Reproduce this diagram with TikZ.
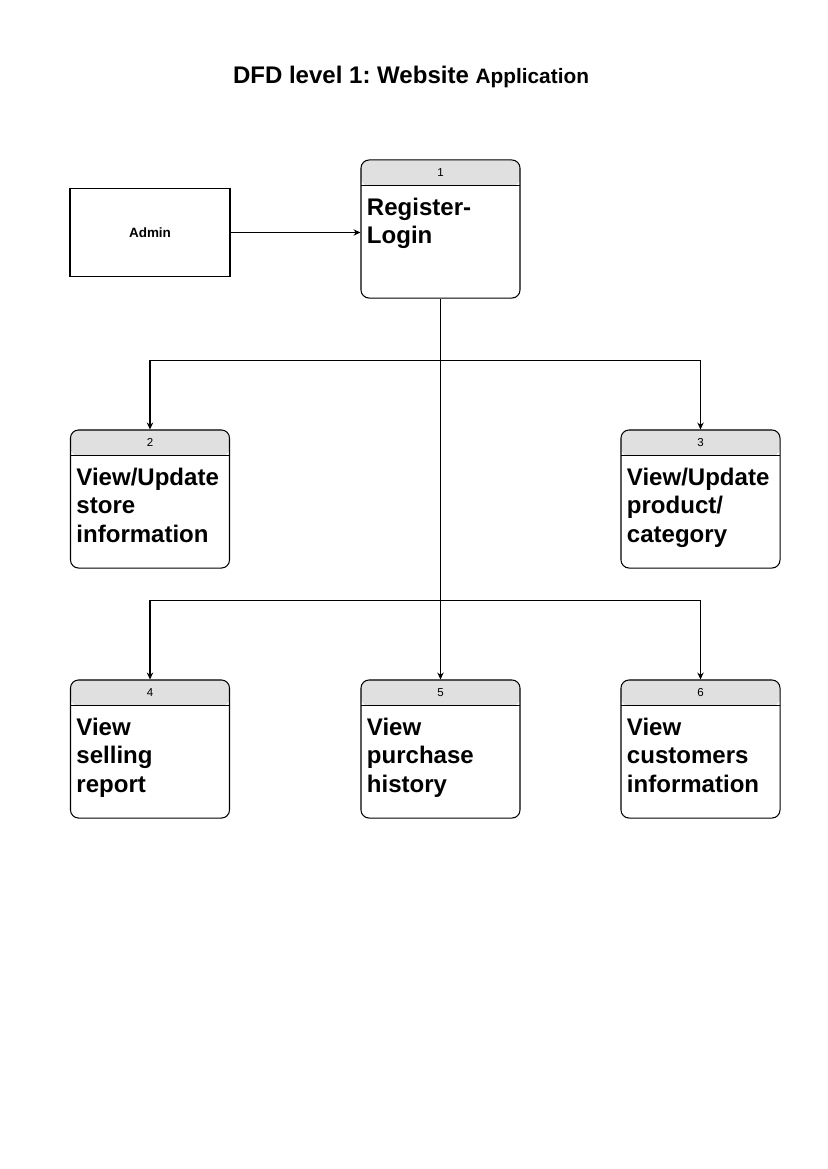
\documentclass[tikz,border=0pt]{standalone}
\usepackage{fontspec}
\setmainfont{Liberation Sans}
\usepackage{xcolor}
\usepackage{tikz}
\usetikzlibrary{arrows.meta}
\frenchspacing
\definecolor{headgray}{HTML}{E0E0E0}
\tikzstyle{entity} = [draw, rectangle, line width=0.75pt,
minimum width=115.2pt, minimum height=64pt, font=\fontsize{9.7}{11}\selectfont\bfseries]
\tikzstyle{process} = [draw, rectangle, rounded corners=5.8pt, line width=0.75pt,
minimum width=114.5pt, minimum height=99.4pt,
path picture={\fill[headgray] (path picture bounding box.north west) rectangle ([yshift=-18.7pt]path picture bounding box.north east);
\draw[line width=0.75pt] ([yshift=-18.7pt]path picture bounding box.north west) -- ([yshift=-18.7pt]path picture bounding box.north east);}]
\tikzstyle{num} = [inner sep=0pt, font=\fontsize{8.3}{10}\selectfont]
\tikzstyle{ptext} = [anchor=north west, inner sep=0pt, align=left,
font=\fontsize{17.3}{20.4}\selectfont\bfseries]
\tikzstyle{title} = [anchor=base, inner sep=0pt, font=\fontsize{17.3}{20}\selectfont\bfseries]

\begin{document}
\begin{tikzpicture}[x=0.72pt, y=-0.72pt, >={Stealth[length=5pt,width=4.6pt]}, line width=0.75pt]
	\useasboundingbox (0,0) rectangle (827,1169);
	% We start by placing the title and the admin
	\node [title] (title) at (411,83.3) {DFD level 1: Website {\fontsize{15}{18}\selectfont Application}};
	\node [entity] (admin) at (150,232.5) {Admin};

	% The processes, each one with its number and its text
	\node [process] (p1) at (440.5,229) {};
	\node [num] (n1) at ([yshift=-9.4pt]p1.north) {1};
	\node [ptext] (t1) at ([xshift=4.3pt,yshift=-27.5pt]p1.north west) {Register-\\Login};

	\node [process] (p2) at (150,499) {};
	\node [num] (n2) at ([yshift=-9.4pt]p2.north) {2};
	\node [ptext] (t2) at ([xshift=4.3pt,yshift=-27.5pt]p2.north west) {View/Update\\store\\information};

	\node [process] (p3) at (700.5,499) {};
	\node [num] (n3) at ([yshift=-9.4pt]p3.north) {3};
	\node [ptext] (t3) at ([xshift=4.3pt,yshift=-27.5pt]p3.north west) {View/Update\\product/\\category};

	\node [process] (p4) at (150,749) {};
	\node [num] (n4) at ([yshift=-9.4pt]p4.north) {4};
	\node [ptext] (t4) at ([xshift=4.3pt,yshift=-27.5pt]p4.north west) {View\\selling\\report};

	\node [process] (p5) at (440.5,749) {};
	\node [num] (n5) at ([yshift=-9.4pt]p5.north) {5};
	\node [ptext] (t5) at ([xshift=4.3pt,yshift=-27.5pt]p5.north west) {View\\purchase\\history};

	\node [process] (p6) at (700.5,749) {};
	\node [num] (n6) at ([yshift=-9.4pt]p6.north) {6};
	\node [ptext] (t6) at ([xshift=4.3pt,yshift=-27.5pt]p6.north west) {View\\customers\\information};

	% Branching points on the trunk below process 1
	\coordinate (j1) at (440.5,360.5);
	\coordinate (j2) at (440.5,600.5);

	% Once the nodes are placed, connecting them is easy.
	\draw [->] (admin.east) -- (admin.east -| p1.west);
	\draw [->] (p1) -- (p5);
	\draw [->] (j1) -| (p2);
	\draw [->] (j1) -| (p3);
	\draw [->] (j2) -| (p4);
	\draw [->] (j2) -| (p6);
\end{tikzpicture}
\end{document}
